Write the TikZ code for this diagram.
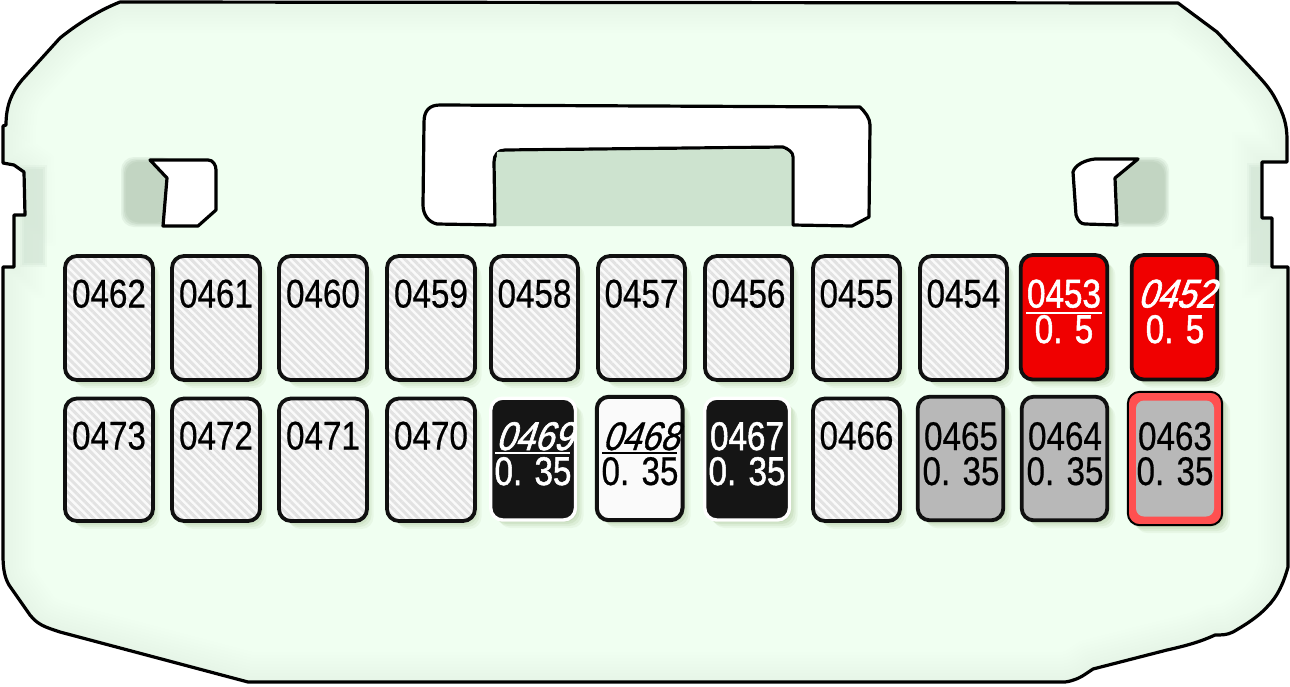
\documentclass[tikz,border=0pt]{standalone}
\usepackage{fontspec}
\setmainfont[FakeStretch=0.83,FakeBold=0.5]{Liberation Sans}
\newfontfamily\whitefont[FakeStretch=0.83,FakeBold=1.3]{Liberation Sans}
\newfontfamily\slantfont[FakeStretch=0.86,FakeSlant=0.33,FakeBold=0.8]{Liberation Sans}
\newfontfamily\slantwhite[FakeStretch=0.86,FakeSlant=0.33,FakeBold=1.6]{Liberation Sans}
\usetikzlibrary{patterns.meta}
\definecolor{bodyfill}{HTML}{F0FFF1}
\definecolor{bodyedge}{HTML}{C8DCD6}
\definecolor{slotgreen}{HTML}{BFD3BF}
\definecolor{windowgreen}{HTML}{CDE3CF}
\definecolor{sidegreen}{HTML}{CFE2D2}
\definecolor{shadowgreen}{HTML}{9DB885}
\definecolor{ink}{HTML}{101010}
\definecolor{pinblack}{HTML}{151515}
\definecolor{pinred}{HTML}{F00000}
\definecolor{pingray}{HTML}{B8B8B8}
\definecolor{ringred}{HTML}{FF5050}
\definecolor{hatchbg}{HTML}{FAFAFA}
\definecolor{hatchline}{HTML}{E2E2E2}
\tikzset{
  outline/.style={draw=black,line width=3.2pt,line join=round},
  emptypin/.style={draw=ink,line width=3.8pt,preaction={fill=hatchbg},pattern={Lines[angle=-45,distance=5.6pt,line width=2.9pt]},pattern color=hatchline},
  grayppin/.style={draw=ink,line width=3.8pt,fill=pingray},
  redpin/.style={draw=ink,line width=3.8pt,fill=pinred},
  whitepin/.style={draw=ink,line width=4pt,fill=white!98!black},
  blackpin/.style={draw=white,line width=3.4pt,fill=pinblack},
  ringpin/.style={draw=black,line width=2pt,fill=ringred},
  pintext/.style={anchor=base,inner sep=0pt,outer sep=0pt,font=\fontsize{40}{44}\selectfont},
  pinwhite/.style={pintext,text=white,font=\fontsize{40}{44}\whitefont},
  pinslant/.style={pintext,font=\fontsize{40}{44}\slantfont},
  pinslantw/.style={pintext,text=white,font=\fontsize{40}{44}\slantwhite},
  rule/.style={line width=2.4pt},
}
\newcommand{\bodypath}{(3,267) -- (14,267) -- (14,215) -- (25,215) -- (24,172) -- (14,165) -- (3,163) -- (3,126) -- (6,125)
  .. controls (6,105) and (12,92) .. (22,80) -- (60,38) .. controls (80,22) and (100,10) .. (120,2) -- (1178,3)
  -- (1217,32) -- (1250,67) .. controls (1262,80) and (1270,88) .. (1276,100) .. controls (1284,115) and (1287,125) .. (1287,140)
  -- (1287,162) -- (1262,162) -- (1262,218) -- (1272,218) -- (1272,267) -- (1288,267) -- (1288,567)
  .. controls (1283,585) and (1277,597) .. (1267,607) .. controls (1258,617) and (1245,625) .. (1233,632)
  .. controls (1227,635) and (1222,635) .. (1215,635) .. controls (1200,642) and (1185,646) .. (1167,650)
  -- (1093,669) -- (1087,673) .. controls (1080,678) and (1073,681) .. (1065,682) -- (248,682) -- (60,632)
  .. controls (45,627) and (38,625) .. (30,615) -- (9,585) .. controls (5,578) and (3,570) .. (3,555) -- cycle}
% soft rounded patch: left, top, right, bottom, colour
\newcommand{\softpatch}[5]{%
  \foreach \g/\op in {3/.25,1.5/.35,0/.5,-1.5/.7}{
    \fill[#5,opacity=\op,rounded corners=13pt] (#1-\g,#2-\g) rectangle (#3+\g,#4+\g);
  }
}
% soft square strip: left, top, right, bottom, colour
\newcommand{\softstrip}[5]{%
  \foreach \g/\op in {2/.2,0/.3,-2/.35}{
    \fill[#5,opacity=\op] (#1-\g,#2-\g) rectangle (#3+\g,#4+\g);
  }
}
% shadow + box: name, left, top, right, bottom, style
\newcommand{\pinbox}[6]{%
  \foreach \off/\op in {8/.10,6/.14,4/.18,2/.2}{
    \fill[shadowgreen,opacity=\op,rounded corners=12pt] (#2+\off,#3+\off) rectangle (#4+\off,#5+\off);
  }
  \node[#6,rounded corners=12pt,inner sep=0pt,outer sep=0pt,minimum width={#4-#2},minimum height={#5-#3}] (#1) at ({(#2+#4)/2},{(#3+#5)/2}) {};
}
\begin{document}
\begin{tikzpicture}[x=1pt,y=-1pt]
\useasboundingbox (0,0) rectangle (1290,686);
\fill[white] (0,0) rectangle (1290,686);
% body
\fill[bodyfill] \bodypath;
\begin{scope}
  \clip \bodypath;
  \foreach \w in {60,54,...,4}{
    \draw[bodyedge,line width=\w pt,opacity=.025] \bodypath;
  }
  \softstrip{22}{167}{45}{265}{sidegreen}
  \softstrip{1249}{165}{1274}{265}{sidegreen}
  \softpatch{124}{160}{172}{224}{slotgreen}
  \softpatch{1112}{160}{1166}{224}{slotgreen}
\end{scope}
\draw[outline] \bodypath;
% window and handle
\fill[windowgreen] (495,150) rectangle (794,226);
\draw[outline,fill=white] (424,122) .. controls (424,110) and (430,105) .. (440,105) -- (860,107)
  .. controls (865,112) and (870,118) .. (870,125) -- (869,217) -- (852,226) -- (793,225) -- (793,157)
  .. controls (793,152) and (788,149) .. (783,147) -- (505,150) .. controls (498,150) and (494,155) .. (494,162)
  -- (495,225) -- (437,224) .. controls (428,222) and (423,214) .. (423,205) -- cycle;
\fill[windowgreen] (497,152) -- (783,149) .. controls (788,151) and (791.3,153.5) .. (791.3,157) -- (791.3,226) -- (496.7,226) -- cycle;
% latch windows
\draw[outline,fill=white] (150,160) -- (208,160) .. controls (213,160) and (216,165) .. (216,170) -- (216,210) -- (198,226) -- (163,226) -- (167,178) -- cycle;
\draw[outline,fill=white] (1138,159) -- (1095,159) .. controls (1085,160) and (1075,165) .. (1073,172) -- (1076,215) .. controls (1078,221) and (1081,224) .. (1085,224) -- (1117,225) -- (1115,178) -- cycle;
% top row, empty
\foreach \n/\l/\r in {0462/65/153,0461/172/260,0460/279/367,0459/387/475,0458/491/578,0457/598/685,0456/705/792,0455/813/900,0454/920/1007}{
  \pinbox{p\n}{\l+1.5}{256}{\r-1.5}{380}{emptypin}
  \node[pintext] (t\n) at ({(\l+\r)/2},307.5) {\n};
}
% bottom row, empty
\foreach \n/\l/\r in {0473/65/153,0472/172/260,0471/279/367,0470/387/475,0466/813/900}{
  \pinbox{p\n}{\l+1.5}{398.5}{\r-1.5}{521}{emptypin}
  \node[pintext] (t\n) at ({(\l+\r)/2},449.5) {\n};
}
% red
\pinbox{p0453}{1020.7}{255}{1107.3}{379.5}{redpin}
\node[pinwhite] (t0453) at (1064,307.5) {0453};
\node[pinwhite] (s0453) at (1064,343) {0. 5};
\draw[white,rule] (1026,313) -- (1102,313);
\pinbox{p0452}{1131.7}{255}{1217.3}{379.5}{redpin}
\node[pinslantw] (t0452) at (1176,307.5) {0452};
\node[pinwhite] (s0452) at (1175,343) {0. 5};
% black / white
\pinbox{p0469}{490.7}{398.2}{575.5}{520}{blackpin}
\node[pinslantw] (t0469) at (534,450) {0469};
\draw[white,rule] (495,453) -- (570,453);
\node[pinwhite] (s0469) at (533,485) {0. 35};
\pinbox{p0468}{596.8}{396.8}{682.5}{520.2}{whitepin}
\node[pinslant] (t0468) at (640.5,450) {0468};
\draw[black,rule] (602,453) -- (677,453);
\node[pintext] (s0468) at (640,485) {0. 35};
\pinbox{p0467}{704.7}{398.2}{789.5}{520}{blackpin}
\node[pinwhite] (t0467) at (747,450) {0467};
\node[pinwhite] (s0467) at (747,485) {0. 35};
% gray
\pinbox{p0465}{917.7}{396.7}{1003.3}{520.3}{grayppin}
\node[pintext] (t0465) at (961,450) {0465};
\node[pintext] (s0465) at (961,485) {0. 35};
\pinbox{p0464}{1021.7}{396.7}{1107.3}{520.3}{grayppin}
\node[pintext] (t0464) at (1065,450) {0464};
\node[pintext] (s0464) at (1065,485) {0. 35};
% ring
\pinbox{p0463}{1127.8}{391.8}{1222.2}{525.2}{ringpin,rounded corners=15pt}
\node[fill=pingray,rounded corners=8pt,inner sep=0pt,minimum width=78pt,minimum height=116pt] (r0463) at (p0463.center) {};
\node[pintext] (t0463) at (1175,450) {0463};
\node[pintext] (s0463) at (1175,485) {0. 35};
\end{tikzpicture}
\end{document}
